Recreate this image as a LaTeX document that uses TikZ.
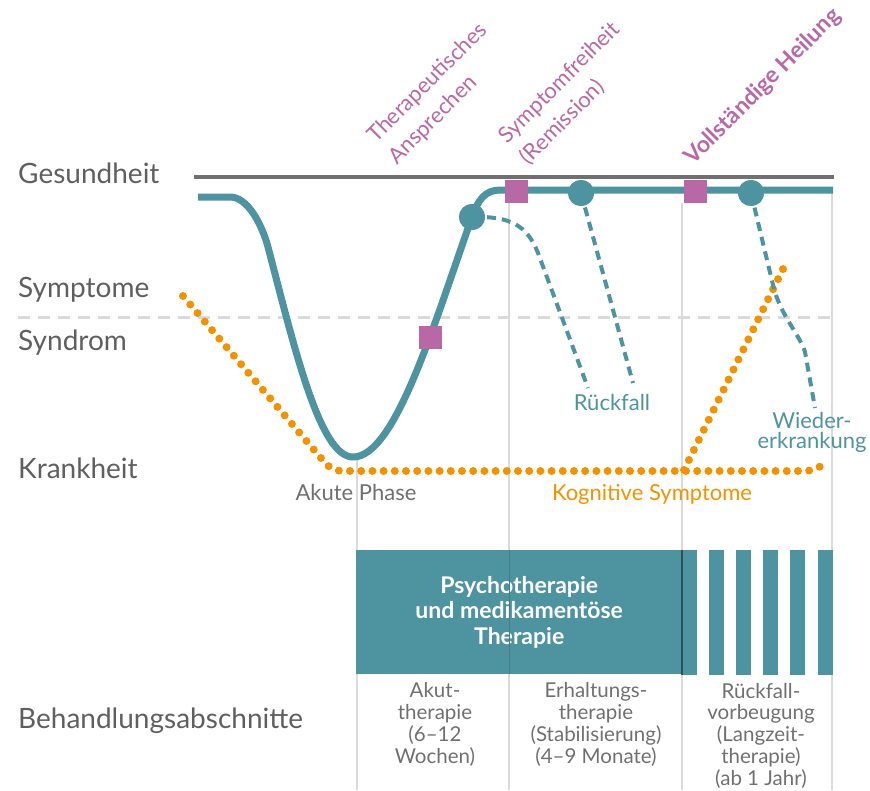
\documentclass[tikz,border=0pt]{standalone}
\usepackage{fontspec}
\setmainfont{Lato}
\definecolor{tealc}{RGB}{78,147,160}
\definecolor{pinkc}{RGB}{185,104,166}
\definecolor{orangec}{RGB}{243,146,0}
\definecolor{gline}{RGB}{112,112,112}
\definecolor{lgray}{RGB}{218,218,218}
\definecolor{txtgray}{RGB}{95,95,95}
\definecolor{txtgray2}{RGB}{112,112,112}
\begin{document}
\begin{tikzpicture}[x=1pt,y=-1pt,
  healthline/.style={draw=gline, line width=4},
  sepline/.style={draw=lgray, line width=3, dash pattern=on 12 off 8},
  vline/.style={draw=lgray, line width=2.5},
  course/.style={draw=tealc, line width=7},
  relapse/.style={draw=tealc, line width=4, dash pattern=on 9 off 6},
  cogn/.style={draw=orangec, line width=8, line cap=round, dash pattern=on 0 off 11.2},
  sq/.style={fill=pinkc, rectangle, minimum size=23, inner sep=0},
  dotc/.style={fill=tealc, circle, minimum size=26, inner sep=0},
  lvl/.style={text=txtgray, font=\fontsize{28}{32}\selectfont, anchor=base west, inner sep=0},
  mile/.style={text=pinkc, rotate=45, anchor=south west, align=left, inner sep=0, font=\fontsize{22}{30}\selectfont},
  phase/.style={text=txtgray2, font=\fontsize{20.5}{21.7}\selectfont, align=center, anchor=base, inner sep=0},
  small/.style={font=\fontsize{22}{20}\selectfont, inner sep=0, anchor=base}
]
\useasboundingbox (0,0) rectangle (870,790);

% vertical phase lines
\draw[vline] (357,460) -- (357,790);
\draw[vline] (509,203) -- (509,790);
\draw[vline] (682,203) -- (682,790);
\draw[vline] (832,193) -- (832,790);

% health line and separator
\draw[healthline] (194,177) -- (834,177);
\draw[sepline] (18,317) -- (834,317);

% treatment bar
\node[fill=tealc, minimum width=326, minimum height=124, anchor=north west, inner sep=0,
      text=white, align=center, font=\bfseries\fontsize{23}{25.5}\selectfont] (bar) at (356,550)
      {Psychotherapie\\und medikamentöse\\Therapie};
\foreach \xs in {682,709,736,763,790,818}
  \fill[tealc] (\xs,550) rectangle +(15,125);
\draw[tealc!85!black, line width=1] (509,550) -- (509,674);
\draw[tealc!55!black, line width=1.2] (682,550) -- (682,675);

% cognitive symptoms (dotted)
\coordinate (k1) at (183,296);
\coordinate (k2) at (332,471);
\coordinate (k3) at (815,471);
\coordinate (k4) at (826,462);
\coordinate (k5) at (684,470);
\coordinate (k6) at (783,269);
\draw[cogn, rounded corners=10] (k1) -- (k2) -- (k3) -- (k4);
\draw[cogn] (k5) -- (k6);

% milestone nodes
\node[dotc] (c1) at (472,217) {};
\node[dotc] (c2) at (581,193) {};
\node[dotc] (c3) at (751,193) {};
\coordinate (r1) at (588,388);
\coordinate (r2) at (633,383);
\coordinate (r3) at (815,408);

% relapse dashed lines
\draw[relapse] (c1.center) .. controls (510,216) and (527,225) .. (538,253) -- (r1);
\draw[relapse] (c2.center) -- (r2);
\draw[relapse] (c3.center) -- (773,285) .. controls (780,315) and (800,335) .. (805,352) -- (r3);

% course of illness
\draw[course] (198,197) -- (230,197)
  .. controls (248,197) and (262,225) .. (268,247)
  .. controls (295,350) and (320,457) .. (353,457)
  .. controls (395,457) and (433,327) .. (472,217)
  .. controls (478,200) and (485,190) .. (500,190) -- (833,190);

% markers on top
\node[dotc] at (c1) {};
\node[dotc] at (c2) {};
\node[dotc] at (c3) {};
\node[sq] (s1) at (430,337) {};
\node[sq] (s2) at (516,191) {};
\node[sq] (s3) at (695,191) {};

% level labels
\node[lvl] (lg) at (18,183) {Gesundheit};
\node[lvl] (ls) at (18,297) {Symptome};
\node[lvl] (ly) at (18,350) {Syndrom};
\node[lvl] (lk) at (18,478) {Krankheit};
\node[lvl] (lb) at (18,728) {Behandlungsabschnitte};

% milestone labels
\node[mile] (m1) at (400,168) {Therapeutisches\\Ansprechen};
\node[mile] (m2) at (531,168) {Symptomfreiheit\\(Remission)};
\node[mile, font=\bfseries\fontsize{23}{25}\selectfont] (m3) at (696,169) {Vollständige Heilung};

% other labels
\node[small, text=txtgray2] (akp) at (356,500) {Akute Phase};
\node[small, text=orangec] (kog) at (652,500) {Kognitive Symptome};
\node[small, text=tealc] (rf) at (612,410) {Rückfall};
\node[small, text=tealc, align=center] (wd) at (812,448) {Wieder-\\erkrankung};

% phases
\node[phase] (p1) at (435,763) {Akut-\\therapie\\(6–12\\Wochen)};
\node[phase] (p2) at (596,763) {Erhaltungs-\\therapie\\(Stabilisierung)\\(4–9 Monate)};
\node[phase] (p3) at (761,785) {Rückfall-\\vorbeugung\\(Langzeit-\\therapie)\\(ab 1 Jahr)};
\end{tikzpicture}
\end{document}
